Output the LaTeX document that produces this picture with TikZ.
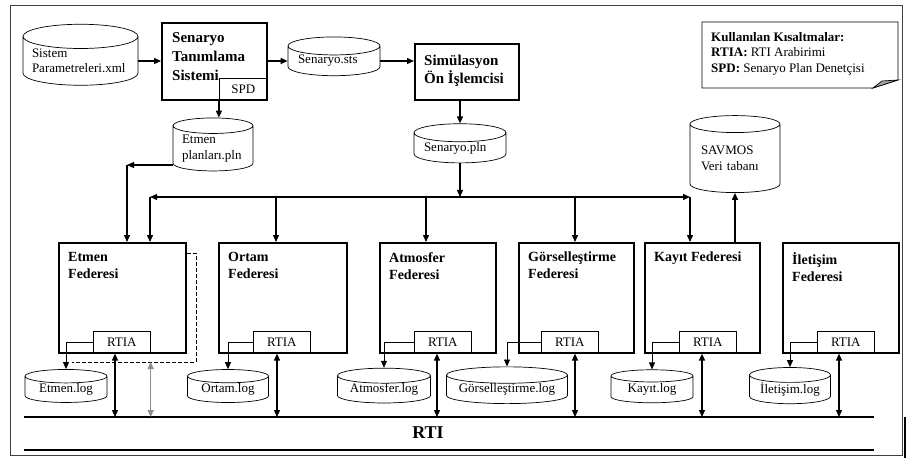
\documentclass[tikz,border=0pt]{standalone}
\usepackage{fontspec}
\setmainfont{Liberation Serif}
\usetikzlibrary{arrows.meta,shapes.geometric}

\tikzset{
  fedbox/.style={draw, line width=1.6pt, anchor=north west, inner sep=0pt},
  subbox/.style={draw, line width=0.7pt, inner sep=0pt, minimum height=22, font=\fontsize{13}{15}\selectfont},
  fedtitle/.style={anchor=north west, align=left, inner sep=0pt, font=\bfseries\fontsize{14}{17}\selectfont},
  toptitle/.style={anchor=north west, align=left, inner sep=0pt, font=\bfseries\fontsize{15}{19}\selectfont},
  db/.style={cylinder, shape border rotate=90, aspect=0.25, draw, line width=0.7pt, inner sep=0pt, font=\fontsize{13}{15.5}\selectfont},
  arr/.style={line width=1.3pt, -{Triangle[length=7pt,width=6pt]}},
  arr2/.style={line width=1.3pt, {Triangle[length=7pt,width=6pt]}-{Triangle[length=7pt,width=6pt]}},
  thinarr/.style={line width=0.8pt, -{Triangle[length=7pt,width=6pt]}},
  rtiline/.style={line width=1.6pt},
  outer/.style={draw=black!75, line width=1pt}
}

\begin{document}
\begin{tikzpicture}[x=1pt, y=-1pt]
  \useasboundingbox (0,0) rectangle (916,468);
  \draw[outer] (10,6) rectangle (902,455);
  \draw[line width=2pt] (905,417) -- (905,458);

  % upper part
  \node[db, minimum width=115, minimum height=55, text width=97, align=left] (sys) at (80.5,61) {Sistem\\Parametreleri.xml};
  \node[fedbox, minimum width=105, minimum height=77] (std) at (161,22) {};
  \node[subbox, minimum width=48, anchor=south east] (spd) at (std.south east) {SPD};
  \node[toptitle] (std-t) at ([shift={(11,10)}]std.north west) {Senaryo\\Tanımlama\\Sistemi};
  \node[db, minimum width=92, minimum height=32, text width=72, align=left] (sts) at (334,61) {Senaryo.sts};
  \node[fedbox, minimum width=104, minimum height=56] (sim) at (414,43) {};
  \node[toptitle, font=\bfseries\fontsize{15}{18}\selectfont] (sim-t) at ([shift={(10,12)}]sim.north west) {Simülasyon\\Ön İşlemcisi};
  \node[db, minimum width=80, minimum height=53, text width=62, align=left] (plans) at (213,148.5) {Etmen\\planları.pln};
  \node[db, minimum width=92, minimum height=30, text width=72, align=left] (pln) at (460,148) {Senaryo.pln};
  \node[db, minimum width=90, minimum height=77, text width=68, align=left] (vt) at (735,158.5) {SAVMOS\\Veri tabanı};

  \draw[line width=0.7pt] (702,22) -- (898,22) -- (898,80) -- (873,88) -- (702,88) -- cycle;
  \draw[line width=0.7pt, fill=black!35] (873,88) -- (882,81) -- (898,80) -- cycle;
  \node[anchor=north west, align=left, inner sep=0pt, font=\fontsize{13}{15.5}\selectfont] (legend) at (711,32)
    {\textbf{Kullanılan Kısaltmalar:}\\\textbf{RTIA:} RTI Arabirimi\\\textbf{SPD:} Senaryo Plan Denetçisi};

  \draw[arr] (sys.east) -- (sys.east -| std.west);
  \draw[arr] (std.east |- sts.west) -- (sts.west);
  \draw[arr] (sts.east) -- (sts.east -| sim.west);
  \draw[arr] (spd.south west) -- (spd.south west |- plans.north);
  \draw[arr] (sim.south -| pln.north) -- (pln.north);

  % RTI
  \coordinate (rtiL) at (24,417);
  \coordinate (rtiR) at (874,417);
  \coordinate (rtiBL) at (24,450);
  \coordinate (rtiBR) at (874,450);
  \draw[rtiline] (rtiL) -- (rtiR);
  \draw[rtiline] (rtiBL) -- (rtiBR);
  \node[font=\bfseries\fontsize{18}{20}\selectfont] (rti) at (428,433) {RTI};

  % federates
  \foreach \n/\x/\w/\r/\a/\t in {
      etm/58/127/35/22/{Etmen\\Federesi},
      ort/218/128/35/24/{Ortam\\Federesi},
      atm/379/116/35/23/{Atmosfer\\Federesi},
      gor/518/115/23/34/{Görselleştirme\\Federesi},
      kay/644/115/35/23/{Kayıt Federesi},
      ilt/782/116/35/22/{İletişim\\Federesi}} {
    \node[fedbox, minimum width=\w, minimum height=110] (\n) at (\x,242) {};
    \node[fedtitle] (\n-t) at ([shift={(10,10)}]\n.north west) {\t};
    \node[subbox, minimum width=57, anchor=south west] (\n-r) at ([xshift=\r]\n.south west) {RTIA};
    \draw[arr2] ([xshift=\a]\n-r.south west) -- ([xshift=\a]\n-r.south west |- rtiL);
  }

  \foreach \n/\c/\w/\s/\t in {etm/66/82/0.25/Etmen.log, ort/228/81/0.25/Ortam.log, atm/384/93/0.22/Atmosfer.log,
      gor/507/121/0.17/Görselleştirme.log, kay/652/82/0.25/Kayıt.log, ilt/790/81/0.25/İletişim.log} {
    \node[db, aspect=\s, minimum width=\w, minimum height=33] (\n-l) at (\c,389.5) {\t};
    \draw[thinarr] (\n-r.west) -| (\n-l.north);
  }

  % bus
  \coordinate (busL) at (150,197);
  \coordinate (busR) at (690,197);
  \draw[arr2] (busL) -- (busR);
  \draw[arr] (pln.south) -- (pln.south |- busL);
  \foreach \n/\d in {etm/92, ort/58, atm/47, gor/57, kay/46}
    \draw[arr] ([xshift=\d]\n.north west |- busL) -- ([xshift=\d]\n.north west);
  \draw[arr] (vt.south |- kay.north) -- (vt.south);

  \coordinate (pc) at (127,165);
  \draw[arr] (plans.west |- pc) -- (pc);
  \draw[arr] (pc) -- (pc |- etm.north);

  \coordinate (dshB) at (196,362);
  \coordinate (dshE) at (72,362);
  \draw[line width=0.9pt, dash pattern=on 4pt off 2pt] ([yshift=-11]etm.north east) -| (dshB) -- (dshE);
  \draw[arr2, draw=black!45, fill=black!45] (etm-r.south east |- dshB) -- (etm-r.south east |- rtiL);
\end{tikzpicture}
\end{document}
